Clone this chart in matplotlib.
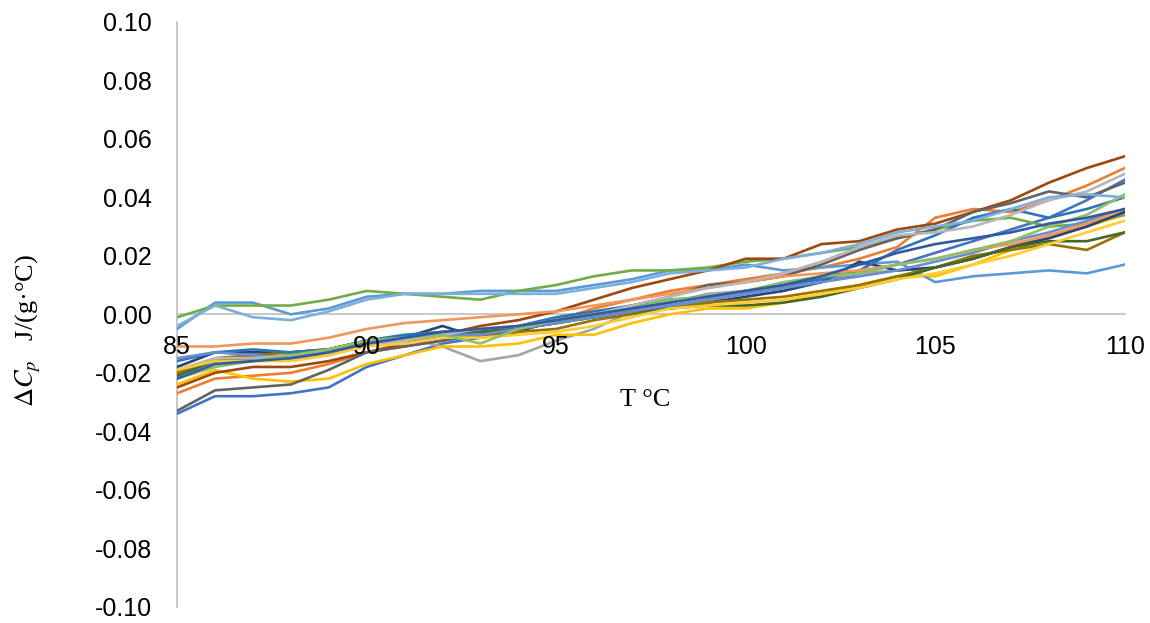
import numpy as np
import matplotlib
matplotlib.use("Agg")
import matplotlib.pyplot as plt

plt.rcParams['font.family'] = ['Liberation Sans', 'DejaVu Sans']
plt.rcParams['mathtext.fontset'] = 'stix'

# temperature grid (deg C)
temps = list(range(85, 111))

# Delta Cp readings, in units of 1e-3 J/(g.C), one list per run
run_green = [-1, 3, 3, 3, 5, 8, 7, 6, 5, 8, 10, 13, 15, 15, 16, 18, 19, 21, 23, 26, 29, 32, 33, 30, 31, 34]
run_ltblue = [-5, 4, 4, 0, 2, 6, 7, 7, 8, 8, 8, 10, 12, 15, 15, 17, 15, 16, 17, 18, 11, 13, 14, 15, 14, 17]
run_skyblue = [-4, 3, -1, -2, 1, 5, 7, 7, 7, 7, 7, 9, 11, 14, 15, 16, 19, 21, 24, 28, 30, 32, 36, 40, 41, 40]
run_brown = [-25, -20, -18, -18, -16, -13, -10, -7, -4, -2, 1, 5, 9, 12, 15, 19, 19, 24, 25, 29, 31, 35, 39, 45, 50, 54]
run_orange = [-27, -22, -21, -20, -17, -13, -11, -9, -7, -5, -2, 2, 5, 8, 10, 12, 14, 16, 19, 23, 33, 36, 35, 39, 44, 50]
run_ltorange = [-11, -11, -10, -10, -8, -5, -3, -2, -1, 0, 1, 3, 5, 7, 9, 11, 13, 14, 15, 17, 19, 22, 24, 27, 31, 36]
run_navy = [-18, -13, -13, -13, -12, -9, -8, -4, -8, -6, -2, -1, 1, 2, 4, 6, 8, 11, 18, 15, 16, 19, 23, 26, 30, 35]
run_blue = [-34, -28, -28, -27, -25, -18, -14, -10, -8, -5, -3, -1, 1, 3, 5, 7, 9, 11, 14, 17, 21, 25, 29, 33, 39, 46]
run_dkgray = [-33, -26, -25, -24, -19, -13, -11, -9, -7, -5, -3, 0, 3, 6, 10, 11, 13, 17, 22, 26, 29, 35, 38, 42, 40, 45]
run_gray = [-20, -16, -15, -15, -14, -10, -8, -11, -16, -14, -9, -5, 1, 4, 7, 8, 10, 12, 14, 15, 16, 19, 23, 27, 30, 35]
run_ltgray = [-19, -15, -15, -14, -13, -11, -9, -7, -5, -4, -2, 0, 3, 6, 9, 11, 14, 18, 23, 27, 28, 30, 34, 39, 42, 48]
run_gold = [-24, -19, -22, -23, -22, -17, -14, -11, -11, -10, -7, -7, -3, 0, 2, 2, 4, 7, 10, 13, 13, 17, 22, 26, 30, 34]
run_ltgold = [-19, -16, -16, -16, -14, -11, -10, -8, -8, -7, -6, -4, -1, 2, 3, 4, 5, 7, 9, 12, 14, 17, 20, 24, 28, 32]
run_olive = [-20, -15, -14, -13, -12, -9, -8, -7, -8, -6, -5, -2, 0, 2, 4, 5, 6, 8, 10, 13, 16, 20, 22, 24, 22, 28]
run_dkgreen = [-21, -16, -15, -14, -12, -9, -8, -7, -6, -5, -3, -1, 1, 2, 3, 3, 4, 6, 9, 12, 16, 19, 23, 25, 25, 28]
run_steel = [-16, -13, -12, -13, -12, -9, -7, -6, -6, -4, -1, 1, 3, 5, 6, 8, 10, 12, 15, 22, 27, 33, 36, 33, 36, 40]
run_green2 = [-22, -18, -16, -14, -12, -9, -8, -7, -10, -5, -2, 0, 2, 5, 6, 8, 11, 13, 14, 17, 19, 22, 25, 30, 34, 41]
run_blue2 = [-15, -13, -14, -15, -13, -11, -8, -7, -7, -5, -3, -1, 1, 3, 5, 7, 9, 11, 13, 15, 18, 21, 25, 28, 32, 36]
run_blue3 = [-22, -17, -16, -15, -13, -10, -8, -6, -5, -4, -2, 0, 2, 4, 6, 8, 10, 13, 17, 21, 24, 26, 28, 31, 33, 36]

runs = [run_blue, run_orange, run_gray, run_gold, run_ltblue, run_green,
        run_navy, run_brown, run_dkgray, run_olive, run_steel, run_dkgreen,
        run_blue2, run_ltorange, run_ltgray, run_ltgold, run_skyblue, run_green2,
        run_blue3]

# Excel office palette
colors = ['#4472C4', '#ED7D31', '#A5A5A5', '#FFC000', '#5B9BD5', '#70AD47',
          '#264478', '#9E480E', '#636363', '#997300', '#2E75B6', '#43682B',
          '#698ED0', '#F1975A', '#B7B7B7', '#FFCD33', '#7CAFDD', '#8CC168',
          '#335AA1']

fig = plt.figure(figsize=(11.5, 6.23), dpi=100)
ax = fig.add_axes([0.154, 0.026, 0.824, 0.939])

for r, c in zip(runs, colors):
    ax.plot(temps, np.array(r) / 1000.0, color=c, linewidth=1.9, zorder=3,
            solid_joinstyle='round')

ax.set_xlim(85, 110)
ax.set_ylim(-0.10, 0.10)
ax.set_xticks([85, 90, 95, 100, 105, 110])
ax.set_yticks(np.arange(-0.10, 0.101, 0.02))
ax.yaxis.set_major_formatter(matplotlib.ticker.FormatStrFormatter('%.2f'))
ax.tick_params(axis='both', length=0, labelsize=18, colors='black')
ax.tick_params(axis='x', pad=15)
ax.tick_params(axis='y', pad=18)
# tick labels sit on top of the curves, the zero line below them
ax.xaxis.set_zorder(5)

ax.spines['top'].set_visible(False)
ax.spines['right'].set_visible(False)
ax.spines['bottom'].set_position(('data', 0))
ax.spines['bottom'].set_color('#BFBFBF')
ax.spines['left'].set_color('#BFBFBF')
ax.spines['bottom'].set_linewidth(1.2)
ax.spines['left'].set_linewidth(1.2)
ax.spines['bottom'].set_zorder(1)

fig.text(0.561, 0.358, 'T °C', fontsize=19, family='Liberation Serif',
         ha='center', va='center')
fig.text(0.025, 0.47, r'$\Delta C_p$   J/(g·°C)', fontsize=19,
         family='Liberation Serif', rotation=90, ha='center', va='center')

fig.savefig('out.png', dpi=100)
